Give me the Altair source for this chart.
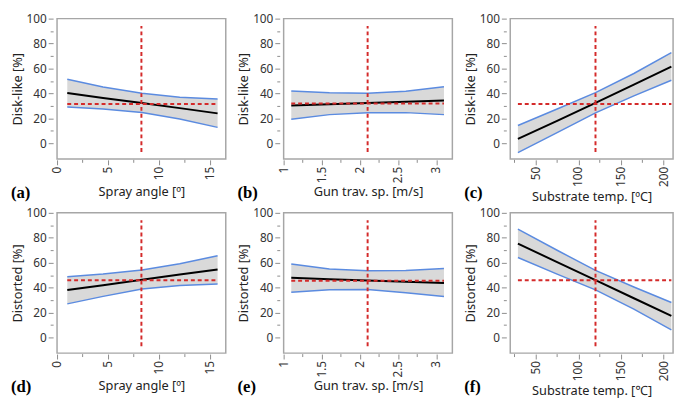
import altair as alt
import pandas as pd

# ---------------- data ----------------
panel_labels = ["(a)", "(b)", "(c)", "(d)", "(e)", "(f)"]
y_titles = ["Disk-like [%]", "Disk-like [%]", "Disk-like [%]",
            "Distorted [%]", "Distorted [%]", "Distorted [%]"]
x_titles = ["Spray angle [º]", "Gun trav. sp. [m/s]", "Substrate temp. [ºC]",
            "Spray angle [º]", "Gun trav. sp. [m/s]", "Substrate temp. [℃]"]

spray_x = [1, 4.5, 8.3, 12, 15.7]
speed_x = [1.1, 1.6, 2.1, 2.6, 3.1]
temp_x = [29, 75, 120, 165, 209]

a_mean = [40.3, 36.4, 32.3, 28.2, 24.0]
a_hi = [51.4, 45.1, 40.2, 36.9, 35.6]
a_lo = [29.1, 27.6, 24.7, 19.5, 12.8]

b_mean = [30.4, 31.4, 32.4, 33.3, 34.3]
b_hi = [42.0, 40.6, 40.2, 41.8, 45.4]
b_lo = [19.3, 23.0, 24.5, 24.6, 23.0]

c_mean = [3.5, 18.0, 32.5, 47.0, 61.5]
c_hi = [14.3, 27.5, 40.7, 56.0, 72.8]
c_lo = [-7.5, 8.5, 24.4, 38.0, 50.6]

d_mean = [38.1, 42.0, 46.3, 50.5, 54.5]
d_hi = [48.8, 51.0, 54.2, 59.2, 65.6]
d_lo = [27.0, 33.0, 38.9, 41.8, 43.0]

e_mean = [47.9, 46.8, 45.8, 44.8, 43.8]
e_hi = [59.0, 55.0, 53.6, 53.8, 55.3]
e_lo = [36.4, 38.4, 38.6, 36.0, 32.9]

f_mean = [75.3, 60.5, 46.0, 31.5, 17.3]
f_hi = [86.9, 70.0, 53.8, 40.5, 28.1]
f_lo = [64.2, 50.8, 38.2, 22.8, 6.2]

vline_x = [8.25, 2.1, 120, 8.25, 2.1, 120]
vline_y = [-7, 94]
hline_y = [31.6, 31.9, 31.6, 46.0, 45.5, 45.9]

spray_major = [0, 5, 10, 15]
spray_minor = [2.5, 7.5, 12.5]
speed_major = [1, 1.5, 2, 2.5, 3]
speed_minor = [1.25, 1.75, 2.25, 2.75]
temp_major = [50, 100, 150, 200]
temp_minor = [25, 75, 125, 175]
y_ticks = [0, 10, 20, 30, 40, 50, 60, 70, 80, 90, 100]

spray_domain = [0, 16.5]
speed_domain = [1, 3.21]
temp_domain = [20, 211]
y_domain = [-12.5, 100]

xs = [spray_x, speed_x, temp_x, spray_x, speed_x, temp_x]
means = [a_mean, b_mean, c_mean, d_mean, e_mean, f_mean]
his = [a_hi, b_hi, c_hi, d_hi, e_hi, f_hi]
los = [a_lo, b_lo, c_lo, d_lo, e_lo, f_lo]
x_majors = [spray_major, speed_major, temp_major] * 2
x_minors = [spray_minor, speed_minor, temp_minor] * 2
x_domains = [spray_domain, speed_domain, temp_domain] * 2

# ---------------- styling ----------------
BLUE = "#5b8be0"
RED = "#d42a2a"
FILL = "#d9d9d9"
TICK = "#8c8c8c"
WIDTHS = [172, 172, 166]
TITLE_Y = [26, 26, 31]
H = 143
FONT = "Noto Sans"


def panel(i):
    w = WIDTHS[i % 3]
    test_y = "datum.value % 20 == 0"
    xaxis = alt.Axis(
        title=x_titles[i], values=x_majors[i], labels=False,
        tickSize=5, offset=1, titleY=TITLE_Y[i % 3], titleBaseline="top",
    )
    yaxis = alt.Axis(
        title=y_titles[i], values=y_ticks,
        labelExpr=f"({test_y}) ? datum.label : ''",
        tickSize={"condition": {"test": test_y, "value": 5}, "value": 3},
        offset=4, titlePadding=2,
    )
    xs_ = alt.Scale(domain=x_domains[i], nice=False, zero=False)
    ys_ = alt.Scale(domain=y_domain, nice=False, zero=False)

    def X(f):
        return alt.X(f, type="quantitative", scale=xs_, axis=xaxis)

    def Y(f):
        return alt.Y(f, type="quantitative", scale=ys_, axis=yaxis)

    df = pd.DataFrame({"x": xs[i], "mean": means[i], "hi": his[i], "lo": los[i]})
    base = alt.Chart(df)
    band = base.mark_area(color=FILL, opacity=1).encode(x=X("x"), y=Y("lo"), y2="hi")
    hi_line = base.mark_line(color=BLUE, strokeWidth=1.5).encode(x=X("x"), y=Y("hi"))
    lo_line = base.mark_line(color=BLUE, strokeWidth=1.5).encode(x=X("x"), y=Y("lo"))
    mean_line = base.mark_line(color="black", strokeWidth=2).encode(x=X("x"), y=Y("mean"))

    vdf = pd.DataFrame({"x": [vline_x[i]], "y0": [vline_y[0]], "y1": [vline_y[1]]})
    vrule = alt.Chart(vdf).mark_rule(color=RED, strokeWidth=2, strokeDash=[4, 3]).encode(
        x=X("x"), y=Y("y0"), y2="y1")
    hdf = pd.DataFrame({"y": [hline_y[i]], "x0": [xs[i][0]], "x1": [xs[i][-1]]})
    hrule = alt.Chart(hdf).mark_rule(color=RED, strokeWidth=2, strokeDash=[4, 3]).encode(
        y=Y("y"), x=X("x0"), x2="x1")

    # minor x ticks (positions from the x scale)
    mdf = pd.DataFrame({"x": x_minors[i]})
    minor = alt.Chart(mdf).mark_rule(color=TICK, strokeWidth=1).encode(
        x=X("x"), y=alt.value(H + 1), y2=alt.value(H + 4))

    # rotated x tick labels (positions from the x scale)
    tdf = pd.DataFrame({"x": x_majors[i], "lab": [f"{v:g}" for v in x_majors[i]]})
    ticklabels = alt.Chart(tdf).mark_text(
        angle=270, align="right", baseline="middle", font=FONT, fontSize=12,
        color="#333333",
    ).encode(x=X("x"), y=alt.value(H + 8), text="lab:N")

    ldf = pd.DataFrame({"t": [panel_labels[i]]})
    label = alt.Chart(ldf).mark_text(
        font="Liberation Serif", fontWeight="bold", fontSize=17,
        align="left", baseline="middle", color="black",
    ).encode(x=alt.value(-47), y=alt.value(H + 35), text="t:N")

    return alt.layer(band, hi_line, lo_line, mean_line, hrule, vrule, minor,
                     ticklabels, label).properties(width=w, height=H)


row1 = alt.hconcat(panel(0), panel(1), panel(2), spacing=10)
row2 = alt.hconcat(panel(3), panel(4), panel(5), spacing=10)
chart = alt.vconcat(row1, row2, spacing=2).properties(
    padding={"left": 2, "top": 0, "right": 0, "bottom": 0}
).configure_view(
    stroke="#a6a6a6", strokeWidth=1.5
).configure_axis(
    domain=False, grid=False, tickColor=TICK, tickWidth=1,
    labelFont=FONT, labelFontSize=12, labelColor="#333333", labelPadding=2,
    titleFont=FONT, titleFontSize=13, titleFontWeight="normal", titleColor="#222222",
)

chart.save("out.html", embed_options={"renderer": "svg", "actions": False})
